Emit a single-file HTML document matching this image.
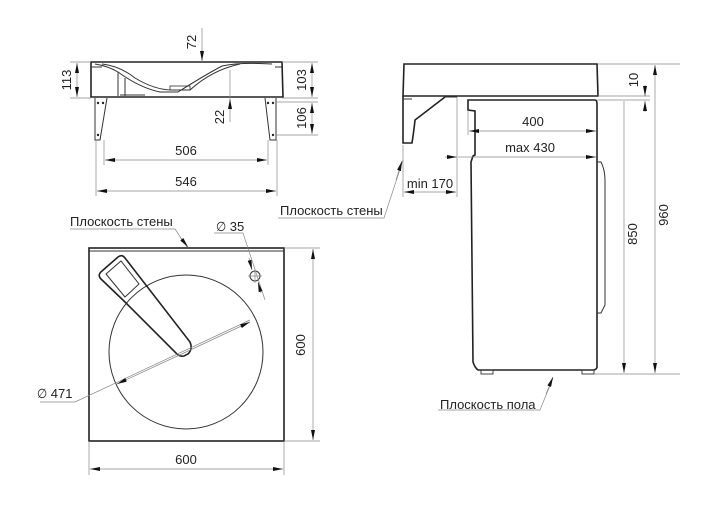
<!DOCTYPE html>
<html><head><meta charset="utf-8"><style>
html,body{margin:0;padding:0;background:#fff}
svg{display:block}
text{font-family:"Liberation Sans Narrow","Liberation Sans","DejaVu Sans Condensed",sans-serif;fill:#222;font-size:13px}
.t{stroke:#222;stroke-width:1.6;fill:none}
.m{stroke:#333;stroke-width:1;fill:none}
.d{stroke:#888;stroke-width:0.7;fill:none}
</style></head><body>
<svg width="720" height="509" viewBox="0 0 720 509" xmlns="http://www.w3.org/2000/svg">
<defs>
<marker id="a" viewBox="0 0 10 4" refX="10" refY="2" markerWidth="10" markerHeight="4" orient="auto-start-reverse" markerUnits="userSpaceOnUse"><path d="M0,0 L10,2 L0,4z" fill="#111"/></marker>
</defs>

<!-- TOP LEFT: front view of basin -->
<path class="t" d="M91,62 L282,62 L283,97 L91,97 Z"/>
<path class="m" d="M95,64 Q108,66 118,72 Q140,88 160,92 L178,92 Q205,75 222,66 Q240,62 272,64"/>
<path class="m" d="M102,64 Q120,66 135,78 Q155,90 172,90 L190,90 Q212,70 240,64"/>
<path class="m" d="M118,72 L118,96 M125,78 L125,96 M120,95 L145,95 M92,67 L102,67"/>
<path class="m" d="M275,67 L282,67"/>
<rect x="170" y="86" width="20" height="4" fill="none" stroke="#333" stroke-width="0.8"/>
<path class="m" d="M95,98 L95,140 L100,140 L107,98"/>
<path class="m" d="M265,98 L270,140 L276,140 L276,98"/>
<circle cx="98" cy="103" r="1.2" fill="#222"/><circle cx="103" cy="103" r="1.2" fill="#222"/><circle cx="98" cy="135" r="1.2" fill="#222"/>
<circle cx="268" cy="103" r="1.2" fill="#222"/><circle cx="273" cy="103" r="1.2" fill="#222"/><circle cx="273" cy="135" r="1.2" fill="#222"/>
<path class="d" d="M70,62 L91,62 M70,98 L91,98 M282,62 L318,62 M282,98 L318,98 M276,102 L318,102 M276,135 L318,135 M202,28 L202,62 M230,70 L230,122 M104,140 L104,165 M268,140 L268,165 M96,140 L96,196 M277,140 L277,196"/>
<line class="d" x1="77" y1="63" x2="77" y2="97" marker-start="url(#a)" marker-end="url(#a)"/>
<line class="d" x1="312" y1="63" x2="312" y2="97" marker-start="url(#a)" marker-end="url(#a)"/>
<line class="d" x1="312" y1="103" x2="312" y2="134" marker-start="url(#a)" marker-end="url(#a)"/>
<line class="d" x1="202" y1="50" x2="202" y2="61" marker-end="url(#a)"/>
<line class="d" x1="230" y1="108" x2="230" y2="99" marker-end="url(#a)"/>
<line class="d" x1="105" y1="160" x2="267" y2="160" marker-start="url(#a)" marker-end="url(#a)"/>
<line class="d" x1="97" y1="191" x2="276" y2="191" marker-start="url(#a)" marker-end="url(#a)"/>
<text transform="translate(71,80) rotate(-90)" text-anchor="middle">113</text>
<text transform="translate(196,42) rotate(-90)" text-anchor="middle">72</text>
<text transform="translate(224,117) rotate(-90)" text-anchor="middle">22</text>
<text transform="translate(306,80) rotate(-90)" text-anchor="middle">103</text>
<text transform="translate(306,118) rotate(-90)" text-anchor="middle">106</text>
<text x="186" y="155" text-anchor="middle">506</text>
<text x="186" y="186" text-anchor="middle">546</text>

<!-- PLAN VIEW -->
<rect class="t" x="89" y="248" width="195" height="193"/>
<line class="m" x1="89" y1="251" x2="284" y2="251"/>
<circle class="m" cx="186" cy="352" r="77"/>
<path class="t" stroke-width="1.4" d="M102,271 L118,257 Q122,254 125,258 L190,342 Q193,349 188,354 L184,356 Q179,357 176,353 L125,302 L101,279 Q97,275 102,271 Z"/>
<path class="m" d="M106,274 L121,261 L139,284 L125,297 Z"/>
<circle class="m" cx="255" cy="276" r="5"/>
<path class="d" d="M248,276 L262,276 M255,269 L255,283"/>
<path class="d" d="M214,233 L243,233 L265,300"/>
<line class="d" x1="249" y1="258" x2="252" y2="270" marker-end="url(#a)"/>
<line class="d" x1="261" y1="293" x2="258" y2="282" marker-end="url(#a)"/>
<text x="216" y="231">∅ 35</text>
<path class="d" d="M40,402 L75,402 L250,320"/>
<line class="d" x1="186" y1="352" x2="250" y2="322" marker-end="url(#a)"/>
<line class="d" x1="186" y1="352" x2="117" y2="384" marker-end="url(#a)"/>
<text x="37" y="398">∅ 471</text>
<path class="d" d="M70,229 L175,229 L187,247"/>
<line class="d" x1="180" y1="237" x2="188" y2="247" marker-end="url(#a)"/>
<text x="70" y="226">Плоскость стены</text>
<path class="d" d="M284,248 L320,248 M284,441 L320,441 M89,441 L89,475 M284,441 L284,475"/>
<line class="d" x1="313" y1="249" x2="313" y2="440" marker-start="url(#a)" marker-end="url(#a)"/>
<line class="d" x1="90" y1="469" x2="283" y2="469" marker-start="url(#a)" marker-end="url(#a)"/>
<text transform="translate(305,345) rotate(-90)" text-anchor="middle">600</text>
<text x="186" y="464" text-anchor="middle">600</text>

<!-- SIDE VIEW -->
<path class="t" d="M404,64 L597,64 L598,96 L403,96 Z"/>
<path class="t" stroke-width="1.3" d="M403,96 L403,143 L412,143 Q414,130 415,120 L445,97"/>
<path class="m" d="M403,99 L412,99 M445,97 L457,97"/>
<path class="t" stroke-width="1.3" d="M468,100 L595,100 Q597,100 597,104 L597,367 Q597,369 594,370 L478,370 Q475,368 473,362 L471,162 L473,156 L475,155 L475,111 L468,110 Z"/>
<path class="m" d="M597,162 L601,162 Q605,170 605,180 L605,305 L601,313 L597,313"/>
<rect x="481" y="370" width="12" height="4" fill="none" stroke="#333" stroke-width="0.9"/>
<rect x="582" y="370" width="12" height="4" fill="none" stroke="#333" stroke-width="0.9"/>
<path class="d" d="M598,64 L680,64 M598,96 L650,96 M597,100 L650,100 M594,374 L680,374 M457,97 L457,197 M403,145 L403,197 M468,110 L468,135"/>
<line class="d" x1="645" y1="85" x2="645" y2="96" marker-end="url(#a)"/>
<line class="d" x1="645" y1="112" x2="645" y2="101" marker-end="url(#a)"/>
<line class="d" x1="624" y1="101" x2="624" y2="373" marker-end="url(#a)"/>
<line class="d" x1="655" y1="65" x2="655" y2="373" marker-start="url(#a)" marker-end="url(#a)"/>
<line class="d" x1="469" y1="131" x2="596" y2="131" marker-start="url(#a)" marker-end="url(#a)"/>
<line class="d" x1="470" y1="157" x2="596" y2="157" marker-end="url(#a)"/>
<line class="d" x1="470" y1="157" x2="458" y2="157"/>
<line class="d" x1="445" y1="157" x2="457" y2="157" marker-end="url(#a)"/>
<line class="d" x1="404" y1="192" x2="456" y2="192" marker-start="url(#a)" marker-end="url(#a)"/>
<text transform="translate(638,80) rotate(-90)" text-anchor="middle">10</text>
<text transform="translate(637,234) rotate(-90)" text-anchor="middle">850</text>
<text transform="translate(668,215) rotate(-90)" text-anchor="middle">960</text>
<text x="533" y="126" text-anchor="middle">400</text>
<text x="530" y="152" text-anchor="middle">max 430</text>
<text x="430" y="188" text-anchor="middle">min 170</text>
<path class="d" d="M278,218 L384,218 L403,160"/>
<line class="d" x1="396" y1="180" x2="402" y2="161" marker-end="url(#a)"/>
<text x="280" y="215">Плоскость стены</text>
<path class="d" d="M438,410 L540,410 L553,378"/>
<line class="d" x1="546" y1="394" x2="553" y2="377" marker-end="url(#a)"/>
<text x="440" y="409">Плоскость пола</text>
</svg>
</body></html>
